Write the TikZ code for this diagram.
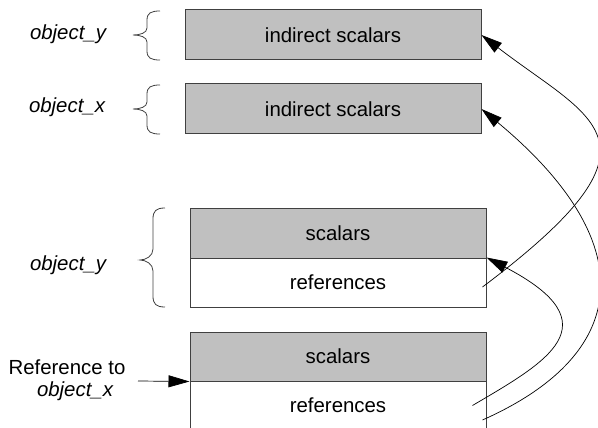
\documentclass[tikz,border=0pt]{standalone}
\usepackage{fontspec}
\setmainfont{Liberation Sans}
\usetikzlibrary{arrows.meta}
\definecolor{boxgray}{HTML}{C0C0C0}
\definecolor{edgegray}{HTML}{404040}
\begin{document}
\begin{tikzpicture}[x=1pt,y=-1pt,
  txt/.style={font=\fontsize{20.4}{24}\selectfont},
  cell/.style={txt, draw=edgegray, line width=1pt, minimum width=296pt,
    minimum height=49pt, inner sep=0pt, text height=14.7pt, text depth=0pt},
  shaded/.style={cell, fill=boxgray},
  plain/.style={cell, fill=white},
  objname/.style={font=\fontsize{20.4}{24}\selectfont\itshape, anchor=base},
  link/.style={draw=black, line width=0.7pt, -{Triangle[length=21pt,width=12pt]}},
  curly/.style={draw=edgegray, line width=0.8pt}
]
\useasboundingbox (0,0) rectangle (598,428);
\clip (0,0) rectangle (598,428);

% indirect scalar blocks
\node[shaded, minimum height=50pt] (yind) at (333,35) {indirect scalars};
\node[shaded, minimum height=50pt] (xind) at (333,109) {indirect scalars};

% object_y: scalars over references
\node[shaded, minimum height=50pt] (yscal) at (338,233) {scalars};
\node[plain] (yref) at (338,282.5) {references};

% object_x: scalars over references
\node[shaded] (xscal) at (338,356.5) {scalars};
\node[plain] (xref) at (338,405.5) {references};

% names on the left
\node[objname] (ly1) at (68,40) {object\_y};
\node[objname] (lx1) at (67,113) {object\_x};
\node[objname] (ly2) at (68,270) {object\_y};
\node[txt, anchor=base] (refto) at (67,374) {Reference to};
\node[objname] (refobj) at (75,396.5) {object\_x};

% curly braces
\draw[curly] (160,11) .. controls (151,11) and (147,13) .. (147,20) -- (147,28)
  .. controls (147,33) and (140,35) .. (133,35)
  .. controls (140,35) and (147,37) .. (147,42) -- (147,51)
  .. controls (147,58) and (151,60) .. (160,60);
\draw[curly] (160,85) .. controls (151,85) and (147,87) .. (147,94) -- (147,102)
  .. controls (147,107) and (140,109) .. (133,109)
  .. controls (140,109) and (147,111) .. (147,116) -- (147,125)
  .. controls (147,132) and (151,134) .. (160,134);
\draw[curly] (165,208) .. controls (156,208) and (153,211) .. (153,219) -- (153,249)
  .. controls (153,256) and (146,260) .. (140,260)
  .. controls (146,260) and (153,264) .. (153,271) -- (153,296)
  .. controls (153,304) and (156,307) .. (165,307);

% incoming reference
\coordinate (refin) at (138,381);
\draw[link] (refin) -- (xscal.south west);

% reference links
\draw[link] ([shift={(-4,4.5)}]yref.east) .. controls +(194,-146) and +(112,86) .. (yind.east);
\draw[link] ([shift={(-4,14.5)}]xref.east) .. controls +(153,-68) and +(158,131) .. (xind.east);
\draw[link] ([xshift=-14pt]xref.east) .. controls +(73,-43) and +(129,67) .. (yref.north east);
\end{tikzpicture}
\end{document}
